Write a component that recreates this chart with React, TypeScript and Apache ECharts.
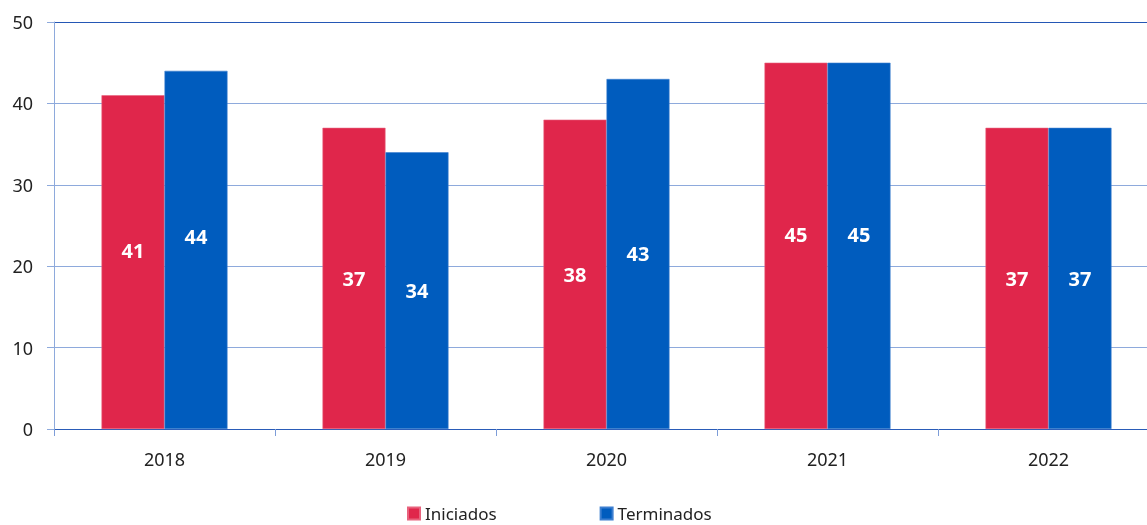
import React, { useEffect, useRef } from "react";
import * as echarts from "echarts";

const categories = ["2018", "2019", "2020", "2021", "2022"];
const iniciados = [41, 37, 38, 45, 37];
const terminados = [44, 34, 43, 45, 37];
const yTicks = [0, 10, 20, 30, 40, 50];
// labels lifted in the reference
const iniciadosLift = [-12, 0, 0, -11, 0];
const terminadosLift = [-13, 0, 0, -11, 0];

const FONT = "'Noto Sans', 'Open Sans', sans-serif";

export default function App() {
  const ref = useRef<HTMLDivElement>(null);
  useEffect(() => {
    if (!ref.current) return;
    const chart = echarts.init(ref.current, null, { renderer: "svg" });
    const mk = (vals: number[], lifts: number[]) =>
      vals.map((v, i) => ({ value: v, label: { offset: [0, lifts[i]] } }));
    const label = {
      show: true,
      position: "inside",
      color: "#fff",
      fontWeight: "bold",
      fontSize: 20,
      fontFamily: FONT,
    };
    chart.setOption({
      animation: false,
      textStyle: { fontFamily: FONT },
      grid: { left: 54, top: 22, width: 1105, height: 407, outerBoundsMode: "none", containLabel: false },
      legend: {
        top: 500,
        left: 402,
        itemWidth: 12,
        itemHeight: 12,
        itemGap: 103,
        icon: "rect",
        textStyle: { fontFamily: FONT, fontSize: 17, lineHeight: 15, color: "#222" },
        data: ["Iniciados", "Terminados"],
      },
      xAxis: {
        type: "category",
        data: categories,
        axisLine: { lineStyle: { color: "#2a5cb8", width: 1 } },
        axisTick: { show: true, length: 7, lineStyle: { color: "#7d9dd8" } },
        axisLabel: { fontFamily: FONT, fontSize: 18, color: "#222", margin: 21 },
      },
      yAxis: {
        type: "value",
        min: yTicks[0],
        max: yTicks[yTicks.length - 1],
        interval: 10,
        axisLine: { show: true, lineStyle: { color: "#8eaadc" } },
        axisTick: { show: true, length: 7, lineStyle: { color: "#8eaadc" } },
        axisLabel: { fontFamily: FONT, fontSize: 18, color: "#222", margin: 21 },
        splitLine: {
          show: true,
          lineStyle: {
            color: ["#8eaadc", "#8eaadc", "#8eaadc", "#8eaadc", "#8eaadc", "#2457b5"],
            width: 1,
          },
        },
      },
      series: [
        {
          name: "Iniciados",
          type: "bar",
          data: mk(iniciados, iniciadosLift),
          barWidth: 63,
          barGap: "0%",
          itemStyle: { color: "#E0264B", borderColor: "#e8627d", borderWidth: 0.6 },
          label,
        },
        {
          name: "Terminados",
          type: "bar",
          data: mk(terminados, terminadosLift),
          barWidth: 63,
          barGap: "0%",
          itemStyle: { color: "#005CBE", borderColor: "#3d7fd0", borderWidth: 0.6 },
          label,
        },
      ],
    });
    return () => chart.dispose();
  }, []);
  return (
    <div
      ref={ref}
      style={{ position: "fixed", left: 0, top: 0, width: 1147, height: 525 }}
    />
  );
}
